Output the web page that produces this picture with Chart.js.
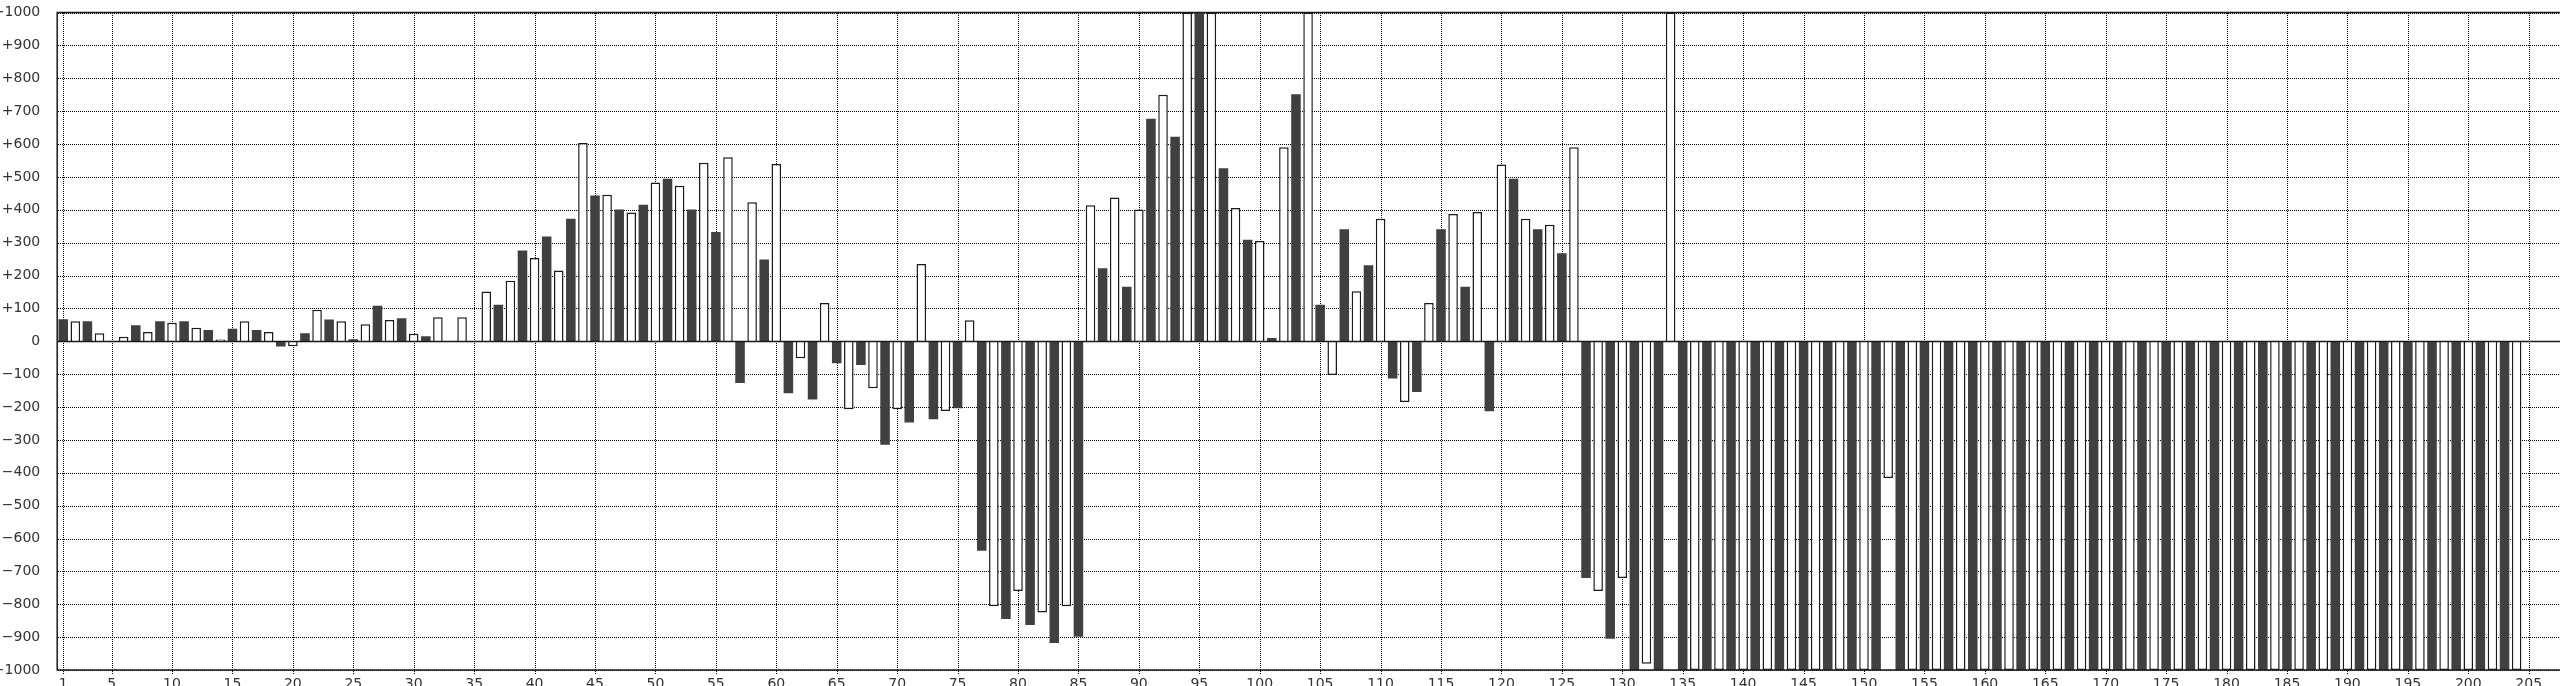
<!DOCTYPE html>
<html>
<head>
<meta charset="utf-8">
<script src="https://cdn.jsdelivr.net/npm/chart.js@4"></script>
<style>
  html, body { margin: 0; padding: 0; background: #fff; overflow: hidden; }
  #wrap { width: 2571px; height: 686px; }
</style>
</head>
<body>
<div id="wrap"><canvas id="myChart"></canvas></div>
<script>
// categories 1..208 (the plot runs a little past 205, off the right edge)
const categories = [];
for (let i = 1; i <= 208; i++) categories.push(String(i));

// one value per category; bars clipped at the frame are kept at +/-1000
const values = [
  67, 61, 61, 24, 0, 14, 49, 28, 61, 56,
  61, 41, 34, 5, 38, 61, 34, 28, -16, -15,
  24, 96, 66, 61, 6, 52, 108, 65, 70, 23,
  15, 73, 0, 73, 0, 151, 111, 184, 276, 253,
  319, 215, 373, 603, 443, 446, 401, 392, 415, 483,
  494, 473, 401, 543, 332, 560, -127, 423, 249, 539,
  -158, -52, -177, 116, -67, -207, -72, -143, -315, -207,
  -247, 235, -237, -212, -204, 64, -637, -806, -845, -760,
  -863, -825, -918, -806, -899, 414, 222, 437, 166, 401,
  677, 750, 622, 1000, 1000, 1000, 526, 405, 309, 305,
  10, 590, 751, 1000, 111, -103, 341, 152, 231, 373,
  -113, -185, -154, 116, 341, 387, 166, 393, -213, 538,
  494, 373, 341, 354, 268, 590, -720, -760, -905, -720,
  -1000, -981, -1000, 1000, -1000, -1000, -1000, -1000, -1000, -1000,
  -1000, -1000, -1000, -1000, -1000, -1000, -1000, -1000, -1000, -1000,
  -1000, -416, -1000, -1000, -1000, -1000, -1000, -1000, -1000, -1000,
  -1000, -1000, -1000, -1000, -1000, -1000, -1000, -1000, -1000, -1000,
  -1000, -1000, -1000, -1000, -1000, -1000, -1000, -1000, -1000, -1000,
  -1000, -1000, -1000, -1000, -1000, -1000, -1000, -1000, -1000, -1000,
  -1000, -1000, -1000, -1000, -1000, -1000, -1000, -1000, -1000, -1000,
  -1000, -1000, -1000, -1000, 0
];

const yMin = -1000, yMax = 1000, yStep = 100;

const DARK = '#404040';
const LINE = '#1a1a1a';

function labelled(i) {
  const n = i + 1;
  return n === 1 || n % 5 === 0;
}

// dotted grid under the bars, taken from the scales' own tick positions
const gridPlugin = {
  id: 'dotgrid',
  beforeDatasetsDraw(chart) {
    const { ctx, chartArea: a, scales: { x, y } } = chart;
    const left = Math.round(a.left) + 1, top = Math.round(a.top), bottom = Math.round(a.bottom);
    ctx.save();
    ctx.strokeStyle = '#000';
    ctx.lineWidth = 1;
    ctx.setLineDash([1, 1]);
    ctx.beginPath();
    y.ticks.forEach(t => {
      if (t.value === 0) return;
      const py = Math.round(y.getPixelForValue(t.value)) + 0.5;
      ctx.moveTo(left, py);
      ctx.lineTo(Math.round(a.right), py);
    });
    x.ticks.forEach((t, i) => {
      if (!labelled(i)) return;
      const px = Math.round(x.getPixelForTick(i)) + 0.5;
      ctx.moveTo(px, top);
      ctx.lineTo(px, bottom + 4);
    });
    ctx.stroke();
    ctx.restore();
  },
  // frame (top, left, bottom) and the zero line go over the bars
  afterDatasetsDraw(chart) {
    const { ctx, chartArea: a, scales: { y } } = chart;
    const zero = Math.round(y.getPixelForValue(0)) + 0.5;
    ctx.save();
    ctx.strokeStyle = LINE;
    ctx.lineWidth = 1.5;
    ctx.beginPath();
    ctx.moveTo(a.right, a.top);
    ctx.lineTo(a.left, a.top);
    ctx.lineTo(a.left, a.bottom);
    ctx.lineTo(a.right, a.bottom);
    ctx.moveTo(a.left, zero);
    ctx.lineTo(a.right, zero);
    ctx.stroke();
    ctx.restore();
  }
};

Chart.defaults.font.family = '"DejaVu Sans", sans-serif';
Chart.defaults.font.size = 14;
Chart.defaults.color = '#333';

new Chart(document.getElementById('myChart'), {
  type: 'bar',
  data: {
    labels: categories,
    datasets: [{
      data: values,
      backgroundColor: c => (c.index % 2 === 0 ? DARK : '#fff'),
      borderColor: LINE,
      borderWidth: c => (c.index % 2 === 0 ? 0 : 1.5),
      barPercentage: 0.79,
      categoryPercentage: 1.0
    }]
  },
  options: {
    responsive: true,
    maintainAspectRatio: false,
    animation: false,
    layout: { padding: { top: 12.5, left: 0, right: 0, bottom: 0 } },
    plugins: { legend: { display: false }, tooltip: { enabled: false } },
    scales: {
      x: {
        afterFit: s => {
          s.height = 16;
          s.paddingLeft = 0; s.paddingRight = 0; s.paddingTop = 0; s.paddingBottom = 0;
        },
        border: { display: false },
        grid: { display: false, drawTicks: false },
        ticks: {
          autoSkip: false,
          maxRotation: 0,
          minRotation: 0,
          padding: 6,
          callback: (v, i) => (labelled(i) ? categories[i] : '')
        }
      },
      y: {
        min: yMin,
        max: yMax,
        afterFit: s => {
          s.width = 57.2;
          s.paddingLeft = 0; s.paddingRight = 0; s.paddingTop = 0; s.paddingBottom = 0;
        },
        border: { display: false },
        grid: { display: false, drawTicks: false },
        ticks: {
          stepSize: yStep,
          padding: 17,
          callback: v => (v > 0 ? '+' + v : v < 0 ? '\u2212' + Math.abs(v) : '0')
        }
      }
    }
  },
  plugins: [gridPlugin]
});
</script>
</body>
</html>
